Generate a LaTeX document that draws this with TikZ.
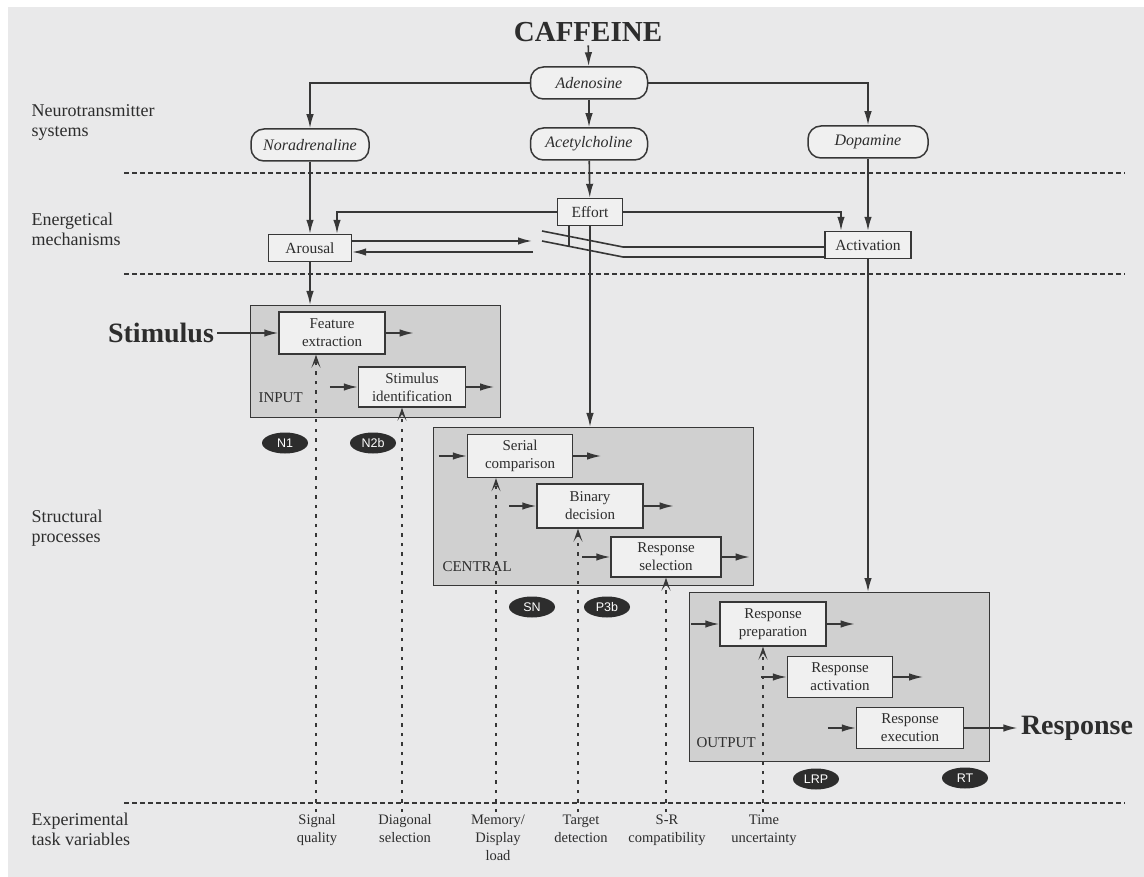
\documentclass[tikz,border=0pt]{standalone}
\usepackage{fontspec}
\setmainfont{Liberation Serif}
\newfontfamily\sansf{Liberation Sans}
\usetikzlibrary{arrows.meta,calc,shapes.geometric}
\definecolor{bgc}{RGB}{233,233,234}
\definecolor{panc}{RGB}{208,208,208}
\definecolor{boxc}{RGB}{240,240,240}
\definecolor{lc}{RGB}{55,55,55}
\definecolor{tc}{RGB}{45,45,45}
\definecolor{ellc}{RGB}{45,45,45}
\begin{document}
\begin{tikzpicture}[x=1pt,y=-1pt,
  every node/.style={text=tc},
  pill/.style={draw=lc, line width=1.5pt, rounded corners=13pt, fill=boxc, minimum height=32pt, inner sep=0pt, font=\fontsize{16}{18}\selectfont\itshape},
  en/.style={draw=lc, line width=1.4pt, fill=boxc, minimum height=27pt, inner sep=0pt, font=\fontsize{15.5}{17}\selectfont},
  sbox/.style={draw=lc, line width=1.4pt, fill=boxc, align=center, inner sep=0pt, font=\fontsize{15}{18}\selectfont},
  panel/.style={draw=lc, line width=1.4pt, fill=panc, anchor=north west, inner sep=0pt},
  arr/.style={-{Latex[length=14pt,width=7.5pt]}, line width=1.6pt, draw=lc},
  ln/.style={line width=1.6pt, draw=lc},
  upar/.style={-{Stealth[length=13pt,width=9pt,inset=6.5pt]}, line width=1.7pt, draw=lc, dash pattern=on 3.5pt off 6pt},
  sep/.style={line width=1.3pt, draw=lc, dash pattern=on 5pt off 3pt},
  erp/.style={ellipse, fill=ellc, text=white, font=\sansf\fontsize{12.5}{12.5}\selectfont, minimum width=46pt, minimum height=21pt, inner sep=0pt},
  lab/.style={align=left, anchor=west, font=\fontsize{18}{20}\selectfont},
  panlab/.style={anchor=west, font=\fontsize{15}{15}\selectfont},
  task/.style={align=center, anchor=north, font=\fontsize{14.5}{18}\selectfont},
  big/.style={font=\fontsize{28}{28}\selectfont\bfseries}
]
\useasboundingbox (0,0) rectangle (1144,877);
\fill[white] (0,0) rectangle (1144,877);
\fill[bgc] (8,7) rectangle (1144,877);

% separators
\draw[sep] (124,173) -- (1125,173);
\draw[sep] (124,274) -- (1125,274);
\draw[sep] (124,803) -- (1125,803);

% level labels
\node[lab] (l1) at (28,122) {Neurotransmitter\\systems};
\node[lab] (l2) at (28,229) {Energetical\\mechanisms};
\node[lab] (l3) at (28,528) {Structural\\processes};
\node[lab] (l4) at (28,829) {Experimental\\task variables};

% neurotransmitters
\node[font=\fontsize{29}{29}\selectfont\bfseries] (caf) at (588,32) {CAFFEINE};
\node[pill, minimum width=117pt] (aden) at (589,83) {Adenosine};
\node[pill, minimum width=118pt] (nora) at (310,145) {Noradrenaline};
\node[pill, minimum width=117pt] (acet) at (589,144) {Acetylcholine};
\node[pill, minimum width=120pt] (dopa) at (868,142) {Dopamine};

% energetical
\node[en, minimum width=65pt] (eff) at (590,212) {Effort};
\node[en, minimum width=83pt] (aro) at (310,248) {Arousal};
\node[en, minimum width=86pt] (act) at (868,245) {Activation};

\draw[arr] (caf) -- (aden);
\draw[arr] (aden.west) -| (nora.north);
\draw[arr] (aden.east) -| (dopa.north);
\draw[arr] (aden) -- (acet);
\draw[arr] (acet) -- (eff);
\draw[arr] (nora) -- (aro);
\draw[arr] (dopa) -- (act);
\draw[arr] (eff.west) -| ([xshift=27pt]aro.north);
\draw[arr] (eff.east) -| ([xshift=-27pt]act.north);

\coordinate (ar1) at (532,241);
\coordinate (ar2) at (533,252);
\draw[arr] (aro.east |- ar1) -- (ar1);
\draw[arr] (ar2) -- (aro.east |- ar2);
\coordinate (s1a) at (542,231);
\coordinate (s1b) at (623,247);
\coordinate (s2a) at (542,241);
\coordinate (s2b) at (623,257);
\draw[ln] (s1a) -- (s1b) -- (act.west |- s1b);
\draw[ln] (s2a) -- (s2b) -- (act.west |- s2b);
\draw[ln] ([xshift=-21pt]eff.south) -- ++(0,21);

% panels
\node[panel, minimum width=250pt, minimum height=112pt] (inp) at (250,305) {};
\node[panel, minimum width=320pt, minimum height=158pt] (cen) at (433,427) {};
\node[panel, minimum width=300pt, minimum height=169pt] (out) at (689,592) {};
\node[panlab] (inl) at (255,398) {INPUT};
\node[panlab] (cel) at (439,567) {CENTRAL};
\node[panlab] (oul) at (693,743) {OUTPUT};

\draw[arr] (aro.south) -- (aro.south |- inp.north);
\draw[arr] (eff.south) -- (eff.south |- cen.north);
\draw[arr] (act.south) -- (act.south |- out.north);

% input stage
\node[sbox, minimum width=106pt, minimum height=42pt] (feat) at (332,333) {Feature\\extraction};
\node[sbox, minimum width=107pt, minimum height=40pt] (sid) at (412,387) {Stimulus\\identification};
\node[big] (stim) at (161,333) {Stimulus};
\draw[arr] (stim) -- (feat);
\draw[arr] (feat.east) -- ++(28,0);
\draw[arr] (sid.west) ++(-28,0) -- (sid.west);
\draw[arr] (sid.east) -- ++(28,0);

% central stage
\node[sbox, minimum width=105pt, minimum height=43pt] (ser) at (520,456) {Serial\\comparison};
\node[sbox, minimum width=106pt, minimum height=44pt] (bin) at (590,506) {Binary\\decision};
\node[sbox, minimum width=110pt, minimum height=40pt] (rsel) at (666,557) {Response\\selection};
\draw[arr] (ser.west) ++(-28,0) -- (ser.west);
\draw[arr] (ser.east) -- ++(28,0);
\draw[arr] (bin.west) ++(-27,0) -- (bin.west);
\draw[arr] (bin.east) -- ++(30,0);
\draw[arr] (rsel.west) ++(-28,0) -- (rsel.west);
\draw[arr] (rsel.east) -- ++(28,0);

% output stage
\node[sbox, minimum width=106pt, minimum height=44pt] (rprep) at (773,624) {Response\\preparation};
\node[sbox, minimum width=105pt, minimum height=41pt] (ract) at (840,677) {Response\\activation};
\node[sbox, minimum width=107pt, minimum height=41pt] (rexe) at (910,728) {Response\\execution};
\node[big] (resp) at (1077,728) {Response};
\draw[arr] (rprep.west) ++(-28,0) -- (rprep.west);
\draw[arr] (rprep.east) -- ++(28,0);
\draw[arr] (ract.west) ++(-26,0) -- (ract.west);
\draw[arr] (ract.east) -- ++(30,0);
\draw[arr] (rexe.west) ++(-28,0) -- (rexe.west);
\draw[arr] (rexe) -- (resp);

% ERP components
\node[erp] (n1) at (285,443) {N1};
\node[erp] (n2b) at (373,443) {N2b};
\node[erp] (sn) at (532,607) {SN};
\node[erp] (p3b) at (607,607) {P3b};
\node[erp] (lrp) at (816,779) {LRP};
\node[erp] (rt) at (965,778) {RT};

% task variables
\node[task] (t1) at (317,811) {Signal\\quality};
\node[task] (t2) at (405,811) {Diagonal\\selection};
\node[task] (t3) at (498,811) {Memory/\\Display\\load};
\node[task] (t4) at (581,811) {Target\\detection};
\node[task] (t5) at (667,811) {S-R\\compatibility};
\node[task] (t6) at (764,811) {Time\\uncertainty};

\draw[upar] (316,812) -- (316,0 |- feat.south);
\draw[upar] (402,812) -- (402,0 |- sid.south);
\draw[upar] (496,812) -- (496,0 |- ser.south);
\draw[upar] (578,812) -- (578,0 |- bin.south);
\draw[upar] (666,812) -- (666,0 |- rsel.south);
\draw[upar] (763,812) -- (763,0 |- rprep.south);
\end{tikzpicture}
\end{document}
